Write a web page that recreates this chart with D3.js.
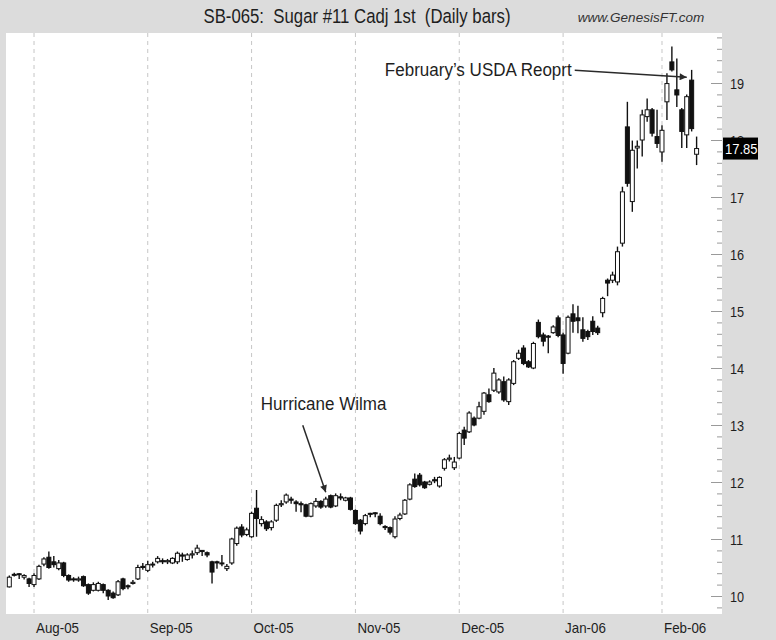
<!DOCTYPE html>
<html>
<head>
<meta charset="utf-8">
<script src="https://cdn.jsdelivr.net/npm/d3@7"></script>
<style>
  body { margin: 0; background: #dcdcdc; }
  svg { display: block; font-family: "Liberation Sans", Arial, sans-serif; }
</style>
</head>
<body>
<div id="chart"></div>
<script>
/* Trading calendar: Jul 25 2005 - Feb 10 2006, NYBOT holidays removed */
const firstDay = '2005-07-25'
const lastDay = '2006-02-10'
const holidays = ['2005-09-05', '2005-11-24', '2005-12-26', '2006-01-02', '2006-01-16']

/* Daily OHLC, cents/lb */
const open = [
  10.16,10.38,10.39,10.33,10.30,10.20,10.30,10.56,10.68,10.60,
  10.48,10.58,10.36,10.30,10.28,10.34,10.20,10.10,10.10,10.20,
  10.10,10.05,10.02,10.30,10.18,10.22,10.30,10.52,10.45,10.55,
  10.60,10.62,10.60,10.58,10.60,10.72,10.64,10.72,10.76,10.80,
  10.76,10.60,10.60,10.58,10.48,10.58,10.92,11.21,11.08,11.04,
  11.54,11.27,11.30,11.20,11.33,11.60,11.65,11.70,11.65,11.62,
  11.60,11.40,11.58,11.66,11.58,11.76,11.58,11.74,11.68,11.72,
  11.50,11.33,11.27,11.45,11.46,11.40,11.22,11.20,11.04,11.36,
  11.44,11.70,12.05,12.12,12.00,11.96,12.04,11.93,12.24,12.40,
  12.25,12.42,12.91,12.88,13.12,13.12,13.24,13.53,13.61,13.58,
  13.76,13.41,13.73,14.17,14.35,14.11,14.00,14.80,14.58,14.56,
  14.62,14.88,14.58,14.26,14.95,14.88,14.67,14.64,14.82,14.70,
  14.97,15.54,15.54,15.51,16.19,18.23,16.92,17.86,18.00,18.41,
  18.53,18.06,17.79,18.67,19.37,18.88,18.53,18.09,19.05,17.75]
const high = [
  10.36,10.41,10.40,10.38,10.32,10.40,10.55,10.68,10.78,10.70,
  10.63,10.60,10.38,10.33,10.34,10.36,10.22,10.24,10.25,10.22,
  10.12,10.08,10.28,10.32,10.20,10.28,10.55,10.58,10.62,10.60,
  10.70,10.66,10.65,10.68,10.78,10.76,10.75,10.80,10.90,10.80,
  10.78,10.62,10.62,10.72,10.56,11.02,11.22,11.26,11.20,11.48,
  11.86,11.40,11.33,11.33,11.62,11.68,11.80,11.74,11.68,11.66,
  11.62,11.64,11.72,11.68,11.74,11.78,11.80,11.80,11.74,11.74,
  11.52,11.35,11.44,11.46,11.47,11.45,11.24,11.22,11.40,11.46,
  11.70,11.98,12.15,12.16,12.02,12.03,12.09,12.10,12.42,12.48,
  12.44,12.88,12.97,13.24,13.15,13.41,13.58,13.64,14.00,13.82,
  13.85,13.82,14.14,14.32,14.40,14.14,14.46,14.85,14.62,14.58,
  14.75,14.92,14.62,14.92,15.12,15.09,14.89,14.67,14.91,14.74,
  15.25,15.57,15.69,16.13,17.18,18.67,17.99,17.99,18.53,18.73,
  18.56,18.53,18.26,19.17,19.64,19.43,18.56,18.80,19.23,18.06]
const low = [
  10.15,10.34,10.30,10.29,10.16,10.16,10.28,10.52,10.48,10.50,
  10.45,10.33,10.25,10.25,10.25,10.16,10.02,10.08,10.08,10.05,
  9.93,9.95,10.00,10.10,10.12,10.20,10.28,10.46,10.42,10.50,
  10.57,10.56,10.56,10.56,10.56,10.60,10.62,10.66,10.72,10.70,
  10.68,10.22,10.48,10.52,10.44,10.55,10.88,11.03,11.05,11.02,
  11.04,11.22,11.14,11.15,11.30,11.56,11.62,11.62,11.48,11.47,
  11.38,11.38,11.55,11.53,11.55,11.54,11.56,11.68,11.66,11.50,
  11.25,11.08,11.24,11.38,11.38,11.24,11.16,11.08,11.01,11.33,
  11.42,11.68,11.90,11.92,11.88,11.94,11.98,11.90,12.20,12.36,
  12.21,12.40,12.65,12.86,12.98,13.10,13.18,13.39,13.58,13.55,
  13.41,13.35,13.70,14.14,14.05,14.00,13.98,14.52,14.38,14.26,
  14.60,14.54,13.90,14.24,14.62,14.61,14.46,14.49,14.58,14.58,
  14.89,15.26,15.49,15.45,16.13,17.18,16.74,17.50,17.71,18.32,
  18.06,17.86,17.62,18.35,19.20,18.58,17.86,17.86,18.15,17.56]
const close = [
  10.33,10.37,10.38,10.36,10.22,10.36,10.52,10.65,10.50,10.55,
  10.58,10.36,10.28,10.29,10.30,10.18,10.05,10.20,10.22,10.10,
  10.00,9.97,10.25,10.13,10.16,10.24,10.50,10.50,10.55,10.56,
  10.66,10.60,10.62,10.66,10.75,10.70,10.72,10.74,10.84,10.78,
  10.72,10.42,10.58,10.57,10.52,11.00,11.19,11.07,11.16,11.45,
  11.36,11.34,11.18,11.30,11.59,11.62,11.77,11.68,11.62,11.60,
  11.40,11.62,11.66,11.56,11.70,11.56,11.76,11.72,11.72,11.52,
  11.27,11.14,11.41,11.44,11.45,11.27,11.20,11.12,11.35,11.42,
  11.68,11.95,11.92,11.95,11.90,12.00,12.02,12.08,12.39,12.42,
  12.35,12.85,12.77,13.21,13.00,13.32,13.56,13.41,13.91,13.79,
  13.44,13.79,14.11,14.26,14.08,14.02,14.43,14.55,14.47,14.54,
  14.72,14.57,14.08,14.89,14.82,14.83,14.52,14.55,14.64,14.62,
  15.22,15.49,15.63,16.04,17.09,17.24,17.82,17.89,18.44,18.53,
  18.12,17.94,18.17,18.99,19.23,18.79,18.15,18.76,18.20,17.85]

const priceTicks = [10, 11, 12, 13, 14, 15, 16, 17, 18, 19]
const title = 'SB-065:  Sugar #11 Cadj 1st  (Daily bars)'
const credit = 'www.GenesisFT.com'
const notes = [
  { text: 'Hurricane Wilma', day: 64, price: 11.82 },
  { text: 'February\u2019s USDA Reoprt', day: 137, price: 19.1 }
]

const W = 776, H = 640
const plot = { left: 6, right: 722, top: 33, bottom: 614 }

const parse = d3.timeParse('%Y-%m-%d')
const fmt = d3.timeFormat('%Y-%m-%d')
const dates = d3.timeDay.range(parse(firstDay), d3.timeDay.offset(parse(lastDay), 1))
  .filter(d => d.getDay() !== 0 && d.getDay() !== 6 && !holidays.includes(fmt(d)))

const bars = dates.map((d, i) => ({ i, date: d, o: open[i], h: high[i], l: low[i], c: close[i] }))

const svg = d3.select('#chart').append('svg')
  .attr('width', W)
  .attr('height', H)

svg.append('rect').attr('width', W).attr('height', H).attr('fill', '#dcdcdc')
svg.append('rect')
  .attr('x', plot.left).attr('y', plot.top)
  .attr('width', plot.right - plot.left).attr('height', plot.bottom - plot.top)
  .attr('fill', '#fff')

const x = d3.scalePoint().domain(d3.range(bars.length)).range([9.3, 696.6])
const y = d3.scaleLinear().domain([10, 19]).range([596, 83])

/* narrow-looking text: regular face squeezed horizontally */
function squeezed(g, str, px, py, size, kx, anchor) {
  return g.append('text')
    .attr('transform', `translate(${px},${py}) scale(${kx},1)`)
    .attr('font-size', size)
    .attr('text-anchor', anchor || 'start')
    .attr('fill', '#1e1e1e')
    .style('white-space', 'pre')
    .text(str)
}

/* month grid + labels */
const monthStarts = bars.filter((d, i) => i > 0 && d.date.getMonth() !== bars[i - 1].date.getMonth())
const grid = svg.append('g').attr('class', 'grid')
grid.selectAll('line').data(monthStarts).join('line')
  .attr('x1', d => x(d.i)).attr('x2', d => x(d.i))
  .attr('y1', plot.top).attr('y2', plot.bottom)
  .attr('stroke', '#c6c6c6')
  .attr('stroke-dasharray', '4,4')
const xLabels = svg.append('g').attr('class', 'axis axis--x')
monthStarts.forEach(d => squeezed(xLabels, d3.timeFormat('%b-%y')(d.date), x(d.i) + 2, 633, 14.5, 0.92))

/* price axis on the right, ticks point into the plot */
const minor = d3.range(9.8, 19.9, 0.2).filter(v => Math.abs(v - Math.round(v)) > 0.01)
svg.append('g').attr('transform', `translate(${plot.right},0)`)
  .call(d3.axisLeft(y).tickValues(minor).tickSize(5).tickFormat(''))
svg.append('g').attr('transform', `translate(${plot.right},0)`)
  .call(d3.axisLeft(y).tickValues(priceTicks).tickSize(11).tickFormat(''))
svg.selectAll('.domain').remove()
svg.selectAll('.tick line').attr('stroke', '#9a9a9a')
const yLabels = svg.append('g').attr('class', 'axis axis--y')
priceTicks.forEach(v => squeezed(yLabels, d3.format('d')(v), plot.right + 8, y(v) + 5.5, 15.5, 0.82))

/* candles */
const bodyW = 4
const candle = svg.append('g').attr('class', 'candles')
  .selectAll('g').data(bars).join('g')
candle.append('line')
  .attr('x1', d => x(d.i)).attr('x2', d => x(d.i))
  .attr('y1', d => y(d.h)).attr('y2', d => y(d.l))
  .attr('stroke', '#111')
  .attr('stroke-width', 1.4)
candle.append('rect')
  .attr('x', d => x(d.i) - bodyW / 2)
  .attr('y', d => y(Math.max(d.o, d.c)))
  .attr('width', bodyW)
  .attr('height', d => Math.max(1, Math.abs(y(d.o) - y(d.c))))
  .attr('fill', d => d.c >= d.o ? '#fff' : '#111')
  .attr('stroke', '#111')
  .attr('stroke-width', 1)

/* last price tag, drawn over the tick label it covers as in the original */
const last = bars[bars.length - 1]
svg.append('rect')
  .attr('x', plot.right + 1).attr('y', y(last.c) - 11)
  .attr('width', 35).attr('height', 22)
  .attr('fill', '#000')
squeezed(svg, d3.format('.2f')(last.c), plot.right + 3, y(last.c) + 5.5, 15.5, 0.84).attr('fill', '#fff')

/* annotations */
svg.append('defs').append('marker')
  .attr('id', 'arrow')
  .attr('markerUnits', 'userSpaceOnUse')
  .attr('viewBox', '0 0 10 10')
  .attr('refX', 10).attr('refY', 5)
  .attr('markerWidth', 10).attr('markerHeight', 7)
  .attr('orient', 'auto')
  .append('path').attr('d', 'M0,0L10,5L0,10z').attr('fill', '#2a2a2a')

const noteLayout = [
  { tail: [-23, -67], label: [-65, -82], anchor: 'start' },
  { tail: [-112, -7], label: [-115, -1], anchor: 'end' }
]
const ann = svg.append('g').attr('class', 'annotations')
notes.forEach((n, k) => {
  const tx = x(n.day), ty = y(n.price), L = noteLayout[k]
  ann.append('line')
    .attr('x1', tx + L.tail[0]).attr('y1', ty + L.tail[1])
    .attr('x2', tx).attr('y2', ty)
    .attr('stroke', '#2a2a2a')
    .attr('stroke-width', 1.5)
    .attr('marker-end', 'url(#arrow)')
  squeezed(ann, n.text, tx + L.label[0], ty + L.label[1], 18.5, 0.92, L.anchor)
})

/* header */
squeezed(svg, title, 357, 23, 19.5, 0.86, 'middle')
squeezed(svg, credit, 641, 22, 13.5, 1, 'middle').attr('font-style', 'italic').attr('fill', '#333')
</script>
</body>
</html>
